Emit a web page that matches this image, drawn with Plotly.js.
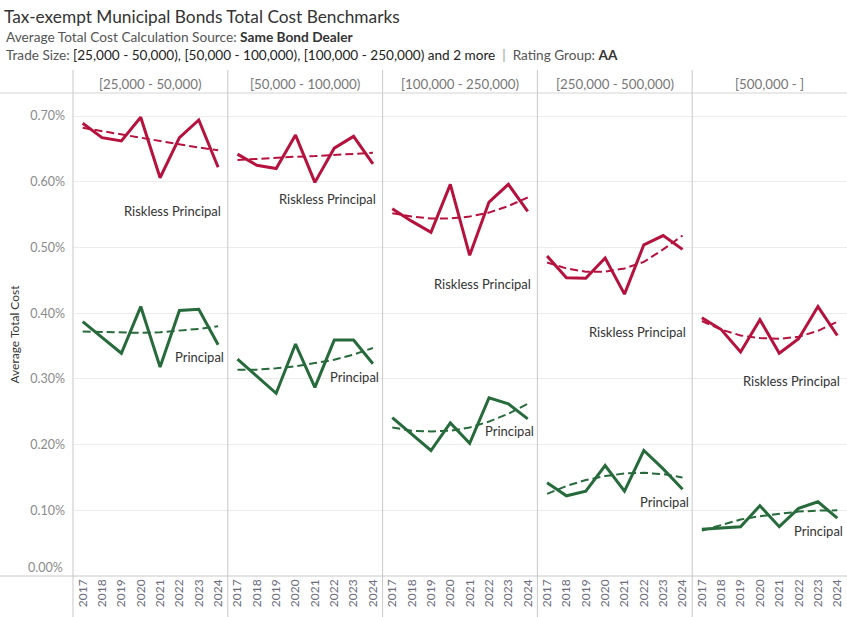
<!DOCTYPE html>
<html>
<head>
<meta charset="utf-8">
<script src="https://cdn.plot.ly/plotly-3.0.1.min.js"></script>
<style>html,body{margin:0;padding:0;background:#fff;}#chart{width:847px;height:617px;}</style>
</head>
<body>
<div id="chart"></div>
<script>
// ---- data ----
var years = ['2017','2018','2019','2020','2021','2022','2023','2024'];
var tradeSizes = ['[25,000 - 50,000)','[50,000 - 100,000)','[100,000 - 250,000)','[250,000 - 500,000)','[500,000 - ]'];

// Riskless Principal average total cost (%)
var riskless_25k  = [0.689, 0.667, 0.662, 0.698, 0.606, 0.667, 0.694, 0.622];
var riskless_50k  = [0.642, 0.625, 0.620, 0.671, 0.599, 0.651, 0.669, 0.627];
var riskless_100k = [0.559, 0.540, 0.523, 0.596, 0.488, 0.569, 0.596, 0.555];
var riskless_250k = [0.487, 0.454, 0.453, 0.484, 0.429, 0.504, 0.518, 0.497];
var riskless_500k = [0.393, 0.375, 0.341, 0.390, 0.339, 0.361, 0.410, 0.366];

// Principal average total cost (%)
var principal_25k  = [0.387, 0.363, 0.339, 0.410, 0.318, 0.404, 0.406, 0.352];
var principal_50k  = [0.330, 0.304, 0.278, 0.353, 0.287, 0.359, 0.359, 0.323];
var principal_100k = [0.241, 0.216, 0.191, 0.233, 0.202, 0.271, 0.262, 0.239];
var principal_250k = [0.142, 0.122, 0.129, 0.168, 0.129, 0.191, 0.163, 0.132];
var principal_500k = [0.071, 0.073, 0.075, 0.107, 0.075, 0.103, 0.113, 0.088];

// Trend lines (%)
var rTrend_25k  = [0.682, 0.677, 0.672, 0.666, 0.662, 0.657, 0.652, 0.648];
var rTrend_50k  = [0.633, 0.635, 0.636, 0.638, 0.639, 0.641, 0.642, 0.644];
var rTrend_100k = [0.552, 0.547, 0.544, 0.544, 0.547, 0.553, 0.563, 0.576];
var rTrend_250k = [0.477, 0.468, 0.463, 0.463, 0.468, 0.478, 0.497, 0.518];
var rTrend_500k = [0.388, 0.375, 0.366, 0.362, 0.361, 0.364, 0.373, 0.387];

var pTrend_25k  = [0.372, 0.371, 0.370, 0.370, 0.371, 0.373, 0.376, 0.380];
var pTrend_50k  = [0.314, 0.314, 0.316, 0.319, 0.324, 0.329, 0.337, 0.347];
var pTrend_100k = [0.226, 0.221, 0.220, 0.221, 0.226, 0.235, 0.247, 0.262];
var pTrend_250k = [0.125, 0.137, 0.146, 0.152, 0.156, 0.157, 0.155, 0.150];
var pTrend_500k = [0.069, 0.078, 0.086, 0.091, 0.095, 0.098, 0.0995, 0.100];

var yTickVals = [0, 0.1, 0.2, 0.3, 0.4, 0.5, 0.6, 0.7];

// ---- build ----
var riskless = [riskless_25k, riskless_50k, riskless_100k, riskless_250k, riskless_500k];
var principal = [principal_25k, principal_50k, principal_100k, principal_250k, principal_500k];
var rTrend = [rTrend_25k, rTrend_50k, rTrend_100k, rTrend_250k, rTrend_500k];
var pTrend = [pTrend_25k, pTrend_50k, pTrend_100k, pTrend_250k, pTrend_500k];

// label positions per panel (layout only)
var rLabelY = [0.556, 0.573, 0.445, 0.372, 0.297];
var pLabelY = [0.334, 0.303, 0.220, 0.113, 0.069];

var RED = '#b5123e', GREEN = '#276a3b';
var FONT = 'Lato, "Noto Sans", sans-serif';
var traces = [];
var layout = {
  width: 847, height: 617,
  margin: {l: 73, r: 0, t: 93, b: 41, pad: 0},
  paper_bgcolor: '#fff', plot_bgcolor: '#fff',
  showlegend: false,
  font: {family: FONT, size: 12, color: '#333'},
  title: {text: 'Tax-exempt Municipal Bonds Total Cost Benchmarks', x: 4/847, xref: 'container', xanchor: 'left',
          y: 1 - 17/617, yref: 'container', yanchor: 'middle', font: {family: FONT, size: 17.3, color: '#333'}},
  yaxis: {range: [0, 0.735], tickvals: yTickVals, ticktext: ['', '0.10%','0.20%','0.30%','0.40%','0.50%','0.60%','0.70%'],
          showgrid: true, gridcolor: '#ececec', gridwidth: 1, zeroline: false, showline: false,
          ticks: '', ticklabelstandoff: 7, tickfont: {family: FONT, size: 12.5, color: '#8a8a8a'},
          title: {text: 'Average Total Cost', font: {family: FONT, size: 12, color: '#333'}, standoff: 8},
          fixedrange: true},
  annotations: [],
  shapes: []
};

var n = tradeSizes.length;
for (var i = 0; i < n; i++) {
  var xa = 'x' + (i === 0 ? '' : (i + 1));
  var xaKey = 'xaxis' + (i === 0 ? '' : (i + 1));
  layout[xaKey] = {
    domain: [i / n, (i + 1) / n], anchor: 'y', type: 'category', range: [-0.5, 7.5],
    tickangle: -90, ticks: '', showgrid: false, zeroline: false, showline: false,
    tickfont: {family: FONT, size: 12, color: '#6b6b7a'}, fixedrange: true
  };
  traces.push({x: years, y: rTrend[i], xaxis: xa, yaxis: 'y', mode: 'lines', hoverinfo: 'skip',
               line: {color: RED, width: 2, dash: '8px,4px'}});
  traces.push({x: years, y: pTrend[i], xaxis: xa, yaxis: 'y', mode: 'lines', hoverinfo: 'skip',
               line: {color: GREEN, width: 2, dash: '8px,4px'}});
  traces.push({x: years, y: riskless[i], xaxis: xa, yaxis: 'y', mode: 'lines', name: 'Riskless Principal',
               line: {color: RED, width: 3}});
  traces.push({x: years, y: principal[i], xaxis: xa, yaxis: 'y', mode: 'lines', name: 'Principal',
               line: {color: GREEN, width: 3}});

  layout.annotations.push({xref: xa, yref: 'y', x: 7, y: rLabelY[i], xanchor: 'right', yanchor: 'middle',
    xshift: 5, text: 'Riskless Principal', showarrow: false, font: {family: FONT, size: 13, color: '#333'}});
  layout.annotations.push({xref: xa, yref: 'y', x: 7, y: pLabelY[i], xanchor: 'right', yanchor: 'middle',
    xshift: 8, text: 'Principal', showarrow: false, font: {family: FONT, size: 13, color: '#333'}});
  // column header
  layout.annotations.push({xref: 'paper', yref: 'paper', x: (i + 0.5) / n, y: (576 - 84) / 483, xanchor: 'center', yanchor: 'middle',
    text: tradeSizes[i], showarrow: false, font: {family: FONT, size: 13.3, color: '#777'}});
  // separators
  layout.shapes.push({type: 'line', xref: 'paper', yref: 'paper', x0: i / n, x1: i / n, y0: -41 / 483, y1: (576 - 70) / 483,
    line: {color: '#c8c8c8', width: 1}});
}
// horizontal lines
layout.shapes.push({type: 'line', xref: 'paper', yref: 'paper', x0: -73 / 774, x1: 1, y0: 1, y1: 1, line: {color: '#d4d4d4', width: 1}});
layout.shapes.push({type: 'line', xref: 'paper', yref: 'paper', x0: -73 / 774, x1: 1, y0: 0, y1: 0, line: {color: '#c8c8c8', width: 1}});

// zero tick label (Tableau lifts it inside the pane)
layout.annotations.push({xref: 'paper', yref: 'paper', x: -8 / 774, y: 9 / 483, xanchor: 'right', yanchor: 'middle',
  text: '0.00%', showarrow: false, font: {family: FONT, size: 12.5, color: '#8a8a8a'}});

// subtitles
layout.annotations.push({xref: 'paper', yref: 'paper', x: -69 / 774, y: (576 - 37) / 483, xanchor: 'left', yanchor: 'middle',
  text: '<span style="color:#555">Average Total Cost Calculation Source: </span><b style="color:#333">Same Bond Dealer</b>',
  showarrow: false, font: {family: FONT, size: 13.7, color: '#555'}});
layout.annotations.push({xref: 'paper', yref: 'paper', x: -69 / 774, y: (576 - 55) / 483, xanchor: 'left', yanchor: 'middle',
  text: '<span style="color:#555">Trade Size: </span><span style="color:#222">[25,000 - 50,000), [50,000 - 100,000), [100,000 - 250,000) and 2 more</span><span style="color:#999">  |  </span><span style="color:#555">Rating Group: </span><b style="color:#333">AA</b>',
  showarrow: false, font: {family: FONT, size: 13.6, color: '#555'}});

Plotly.newPlot('chart', traces, layout, {displayModeBar: false, staticPlot: true});
</script>
</body>
</html>
